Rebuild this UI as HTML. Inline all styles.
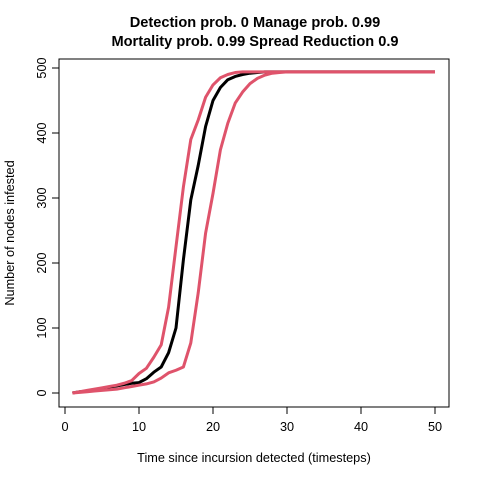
<!DOCTYPE html>
<html><head><meta charset="utf-8"><style>body{margin:0;background:#fff}svg{font-family:"Liberation Sans",sans-serif}</style></head>
<body>
<svg id="chart" width="480" height="480">
<text x="255" y="27" text-anchor="middle" font-size="14.6" font-weight="bold">Detection prob. 0 Manage prob. 0.99</text>
<text x="255" y="46" text-anchor="middle" font-size="14.6" font-weight="bold">Mortality prob. 0.99 Spread Reduction 0.9</text>
<rect x="59" y="59" width="390" height="348" fill="none" stroke="#000"/>
<g id="axes"></g><g id="series"></g>
<text x="254" y="462" text-anchor="middle" font-size="12.7">Time since incursion detected (timesteps)</text>
<text transform="translate(14,233) rotate(-90)" text-anchor="middle" font-size="12.7">Number of nodes infested</text>
</svg>
<script>
const xTicks=[10,20,30,40,50];
const xTickLabels=["0","10","20","30","40","50"];
const yTicks=[0,100,200,300,400,500];
const meanVals=[0,2,3,5,7,9,11,13,15,16,22,32,40,62,100,205,297,350,410,450,470,482,487,490,492,493];
const upperVals=[0,2,4,6,8,10,12,15,19,30,38,55,74,132,225,317,390,420,455,474,485,490,493];
const lowerVals=[0,1,2,3,4,5,6,8,10,12,14,17,23,31,35,40,77,154,246,307,374,415,446,463,476,484,489,492,493];
const plateau=494, tMax=50;
const X=t=>65+7.4*t, Y=v=>393-0.65*v;
const ns="http://www.w3.org/2000/svg";
const ax=document.getElementById('axes'), se=document.getElementById('series');
function mk(tag,attrs,parent){const e=document.createElementNS(ns,tag);for(const k in attrs)e.setAttribute(k,attrs[k]);parent.appendChild(e);return e;}
[0].concat(xTicks).forEach((t,i)=>{
 const l=mk('line',{x1:X(t),x2:X(t),y1:407,y2:414,stroke:'#000'},ax);
 
 
 const tx=mk('text',{x:X(t),y:431,'text-anchor':'middle','font-size':12.7},ax);tx.textContent=xTickLabels[i];
 
 
});
yTicks.forEach(v=>{
 const l=mk('line',{x1:52,x2:59,y1:Y(v),y2:Y(v),stroke:'#000'},ax);
 
 
 const tx=mk('text',{transform:`translate(46,${Y(v)}) rotate(-90)`,'text-anchor':'middle','font-size':12.7},ax);tx.textContent=v;
 
 
});
function series(vals,color,w,name){
 const pts=[];for(let t=1;t<=tMax;t++){const v=t-1<vals.length?vals[t-1]:plateau;pts.push(X(t)+','+Y(v));}
 const p=mk('polyline',{points:pts.join(' '),fill:'none',stroke:color,'stroke-width':w,'stroke-linejoin':'round'},se);
 
 
}
series(meanVals,'#000',3,'mean-line');
series(upperVals,'#DF536B',3,'upper-bound-line');
series(lowerVals,'#DF536B',3,'lower-bound-line');
</script>
</body></html>
